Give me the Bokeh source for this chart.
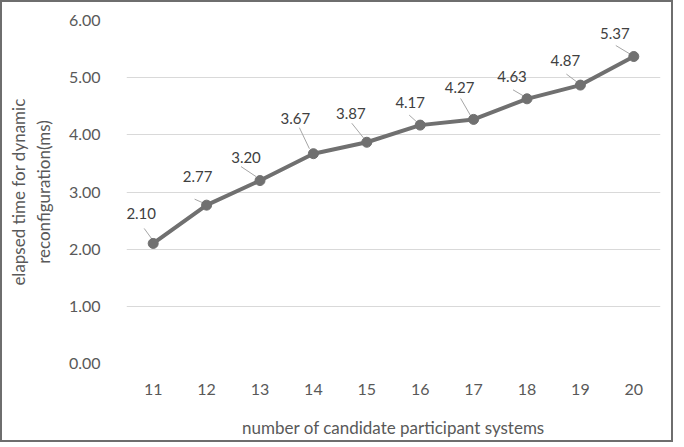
from bokeh.plotting import figure
from bokeh.models import ColumnDataSource, FixedTicker, Range1d, CustomJSTickFormatter
from bokeh.core.properties import value
from bokeh.embed import file_html
from bokeh.resources import INLINE

systems = [11, 12, 13, 14, 15, 16, 17, 18, 19, 20]
elapsed = [2.10, 2.77, 3.20, 3.67, 3.87, 4.17, 4.27, 4.63, 4.87, 5.37]
labels = ["%.2f" % v for v in elapsed]
y_ticks = [0, 1, 2, 3, 4, 5, 6]

# label placement (pixel offsets from each point), styling only
lab_dx = [-12, -9, -14, -18, -16, -10, -14, -15, -15, -19]
lab_dy = [30, 29, 23, 35, 29, 23, 32, 22, 25, 23]
ld_x0 = [-9, -12, -19, -14, -15, -11, -13, -14, -14, -18]
ld_y0 = [15, 6, 14, 26, 19, 10, 21, 9, 11, 11]
ld_x1 = [-1, -3, -4, -4, -3, -1, -2, -2, -2, -3]
ld_y1 = [4, 2, 4, 5, 4, 1, 2, 2, 2, 2]

FONT = "Lato"
W, H = 673, 442
L, R, T, B = 124, 15, 18, 81
xr = Range1d(10.5, 20.5)
yr = Range1d(0, 6)
px_x = (W - L - R) / 10.0
px_y = (H - T - B) / 6.0

p = figure(width=W, height=H, x_range=xr, y_range=yr, output_backend="svg",
           toolbar_location=None, min_border_left=L, min_border_right=R,
           min_border_top=T, min_border_bottom=B)
p.styles = {"border": "2px solid #6e6e6e"}
p.outline_line_color = None
p.background_fill_color = "white"

p.xgrid.grid_line_color = None
p.ygrid.grid_line_color = "#d9d9d9"
p.ygrid.grid_line_width = 1
p.yaxis.ticker = FixedTicker(ticks=y_ticks)
p.xaxis.ticker = FixedTicker(ticks=systems)
p.yaxis.formatter = CustomJSTickFormatter(code="return tick.toFixed(2);")

for ax in (p.xaxis[0], p.yaxis[0]):
    ax.axis_line_color = None
    ax.major_tick_line_color = None
    ax.minor_tick_line_color = None
    ax.major_label_text_font = FONT
    ax.major_label_text_font_size = "16px"
    ax.major_label_text_color = "#595959"
    ax.axis_label_text_font = FONT
    ax.axis_label_text_font_size = "17px"
    ax.axis_label_text_color = "#595959"
    ax.axis_label_text_font_style = "normal"

p.xaxis.major_label_standoff = 14
p.xaxis.axis_label = "number of candidate participant systems"
p.xaxis.axis_label_standoff = 19
p.yaxis.major_label_standoff = 20
p.yaxis.axis_label = "elapsed time for dynamic\nreconfiguration(ms)"
p.yaxis.axis_label_standoff = 12

src = ColumnDataSource(dict(
    x=systems, y=elapsed, lab=labels,
    lx=[s + dx / px_x for s, dx in zip(systems, lab_dx)],
    ly=[v + dy / px_y for v, dy in zip(elapsed, lab_dy)],
    x0=[s + d / px_x for s, d in zip(systems, ld_x0)],
    y0=[v + d / px_y for v, d in zip(elapsed, ld_y0)],
    x1=[s + d / px_x for s, d in zip(systems, ld_x1)],
    y1=[v + d / px_y for v, d in zip(elapsed, ld_y1)],
))

p.segment(x0="x0", y0="y0", x1="x1", y1="y1", source=src,
          line_color="#a6a6a6", line_width=1)
p.line(x="x", y="y", source=src, line_color="#707070", line_width=4)
p.scatter(x="x", y="y", source=src, size=10, fill_color="#707070",
          line_color="#707070")
p.text(x="lx", y="ly", text="lab", source=src, text_font=value(FONT),
       text_font_size="15px", text_color="#404040",
       text_align="center", text_baseline="middle")

open("out.html", "w").write(file_html(p, INLINE))
